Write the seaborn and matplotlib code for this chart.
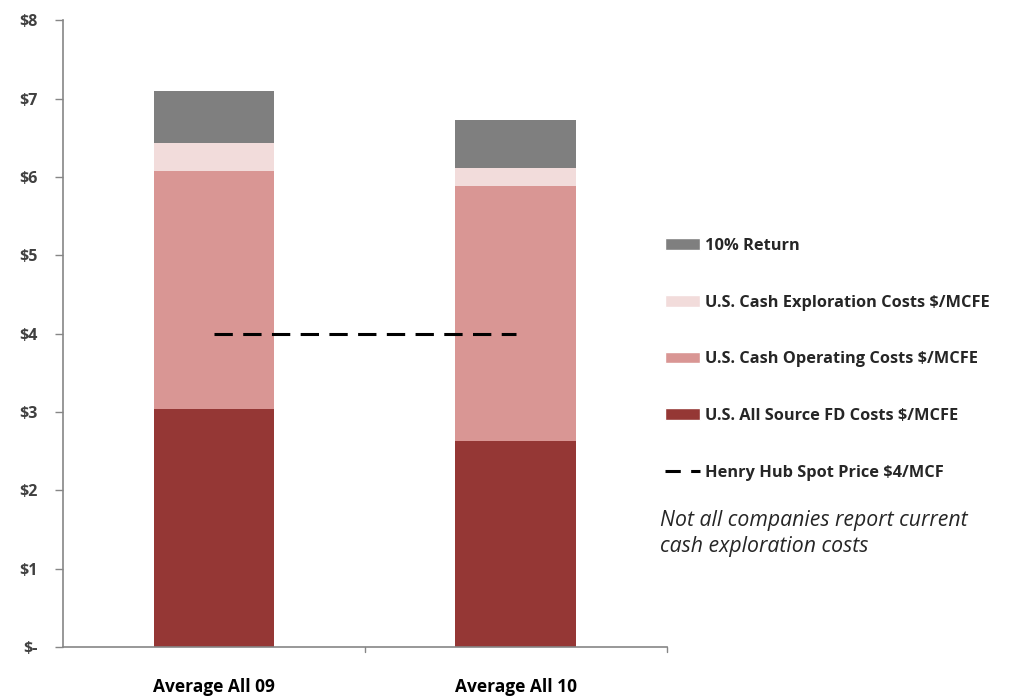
import matplotlib
matplotlib.use("Agg")
import matplotlib.pyplot as plt
from matplotlib.patches import Patch
from matplotlib.lines import Line2D
import seaborn as sns
import numpy as np

# Data ($ per MCFE)
categories = ["Average All 09", "Average All 10"]
fd_costs = [3.04, 2.63]            # U.S. All Source FD Costs
operating_costs = [3.03, 3.25]     # U.S. Cash Operating Costs
exploration_costs = [0.36, 0.23]   # U.S. Cash Exploration Costs
return_10 = [0.66, 0.62]           # 10% Return
henry_hub = [4.0, 4.0]             # Henry Hub Spot Price
y_ticks = [0, 1, 2, 3, 4, 5, 6, 7, 8]
y_tick_labels = ["$-", "$1", "$2", "$3", "$4", "$5", "$6", "$7", "$8"]

series = [
    ("U.S. All Source FD Costs $/MCFE", fd_costs, "#953735"),
    ("U.S. Cash Operating Costs $/MCFE", operating_costs, "#d99694"),
    ("U.S. Cash Exploration Costs $/MCFE", exploration_costs, "#f2dcdb"),
    ("10% Return", return_10, "#7f7f7f"),
]

FONT = ["Open Sans", "DejaVu Sans"]
sns.set_style("white")
plt.rcParams["font.family"] = FONT

fig = plt.figure(figsize=(10.24, 6.96), dpi=100)
ax = fig.add_axes([0.0615, 0.0704, 0.5895, 0.9006])

bottom = np.zeros(len(categories))
for label, vals, color in series:
    sns.barplot(x=categories, y=vals, bottom=bottom, color=color,
                saturation=1, width=0.40, ax=ax, linewidth=0)
    bottom = bottom + np.array(vals)

ax.plot(range(len(categories)), henry_hub, color="black", lw=2.2,
        linestyle=(0, (6, 3.4)), zorder=5)

ax.set_xlim(-0.5, len(categories) - 0.5)
ax.set_ylim(0, 8)
ax.set_yticks(y_ticks)
ax.set_yticklabels(y_tick_labels, fontsize=11.5, fontweight="bold", color="#404040")
ax.set_xticks(range(len(categories)))
ax.set_xticklabels(categories, fontsize=12.5, fontweight="bold", color="black")
ax.tick_params(axis="x", length=0, pad=22)
ax.tick_params(axis="y", length=6, width=1, color="#868686", pad=12, left=True,
               direction="out")

for side in ["top", "right"]:
    ax.spines[side].set_visible(False)
for side in ["left", "bottom"]:
    ax.spines[side].set_color("#868686")
    ax.spines[side].set_linewidth(1.2)

# boundary tick marks on the category axis
for xb in [0.5, 1.5]:
    ax.plot([xb, xb], [0, -0.07], color="#868686", lw=1, clip_on=False)

handles = [
    Patch(facecolor="#7f7f7f", label="10% Return"),
    Patch(facecolor="#f2dcdb", label="U.S. Cash Exploration Costs $/MCFE"),
    Patch(facecolor="#d99694", label="U.S. Cash Operating Costs $/MCFE"),
    Patch(facecolor="#953735", label="U.S. All Source FD Costs $/MCFE"),
    Line2D([0], [0], color="black", lw=2.2, linestyle=(0, (5, 3.4)),
           label="Henry Hub Spot Price $4/MCF"),
]
leg = fig.legend(handles=handles, loc="upper left",
                 bbox_to_anchor=(0.6494, 0.6580), frameon=False,
                 prop={"family": FONT, "weight": "bold", "size": 11.8},
                 handlelength=2.15, handleheight=0.73, handletextpad=0.3,
                 labelspacing=2.48, borderaxespad=0, borderpad=0)
for t in leg.get_texts():
    t.set_color("#262626")

fig.text(0.645, 0.233, "Not all companies report current\ncash exploration costs",
         fontsize=15.3, style="italic", color="#262626", va="center", ha="left",
         linespacing=1.3)

fig.savefig("out.png", dpi=100)
